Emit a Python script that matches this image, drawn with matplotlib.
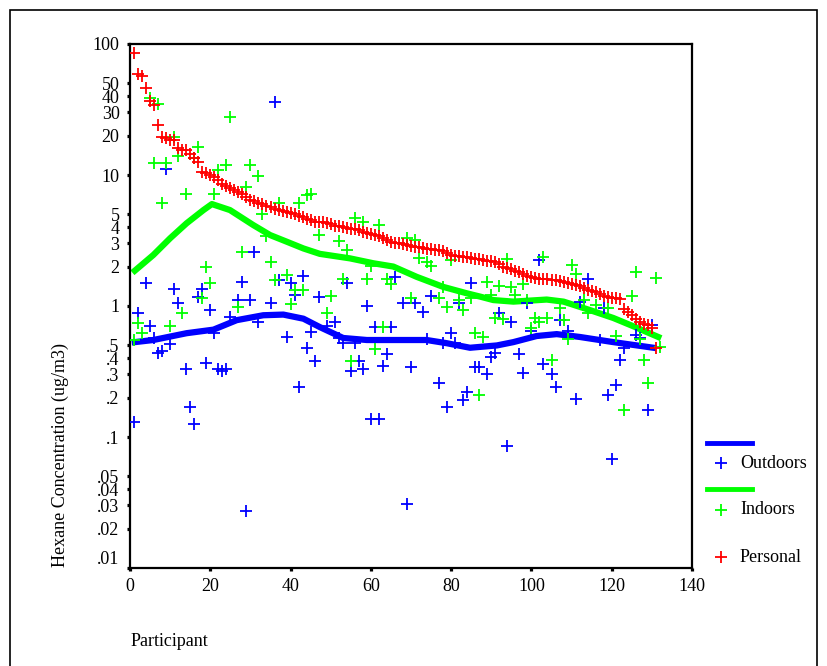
"""
Hexane concentration per participant: outdoors, indoors and personal
samples on a log scale, with smoothed outdoor/indoor trends.
"""
import numpy as np
from matplotlib import pyplot as plt
from matplotlib.lines import Line2D
from matplotlib.patches import Rectangle
from matplotlib.transforms import ScaledTranslation

plt.rcParams['font.family'] = ['Liberation Serif', 'DejaVu Serif']

# Personal samples (sorted, one per participant)
personal = [86, 59, 57, 46, 37, 34, 24, 19.5, 19, 18.5,
            18.5, 16, 15.5, 15.5, 14.5, 13.5, 12.5, 10.5, 10.3, 10,
            9.7, 9.2, 8.5, 8.2, 8.0, 7.7, 7.4, 7.1, 6.8, 6.5,
            6.3, 6.1, 6.0, 5.8, 5.7, 5.5, 5.4, 5.3, 5.2, 5.1,
            5.0, 4.9, 4.8, 4.6, 4.5, 4.4, 4.4, 4.35, 4.3, 4.2,
            4.1, 4.05, 4.0, 3.95, 3.9, 3.85, 3.8, 3.7, 3.6, 3.55,
            3.5, 3.4, 3.3, 3.2, 3.1, 3.05, 3.0, 2.95, 2.9, 2.87,
            2.83, 2.8, 2.77, 2.73, 2.7, 2.68, 2.66, 2.63, 2.55, 2.45,
            2.42, 2.4, 2.38, 2.36, 2.33, 2.3, 2.28, 2.25, 2.22, 2.2,
            2.17, 2.08, 2.0, 1.95, 1.9, 1.85, 1.82, 1.76, 1.7, 1.67,
            1.64, 1.62, 1.61, 1.6, 1.59, 1.58, 1.55, 1.52, 1.5, 1.47,
            1.45, 1.42, 1.38, 1.33, 1.3, 1.27, 1.24, 1.2, 1.17, 1.16,
            1.15, 1.13, 0.95, 0.9, 0.85, 0.8, 0.76, 0.73, 0.71, 0.68,
            0.48]
personal_x = np.arange(1, len(personal) + 1)

# Indoor samples
indoor_x = [1, 2, 3, 5, 6, 7, 8, 9, 10, 11, 12, 13, 14, 16, 17, 18, 19, 20, 21, 22,
            24, 25, 27, 28, 29, 30, 32, 33, 34, 35, 36, 37, 39, 40, 41, 42, 43, 44, 45, 47,
            49, 50, 52, 53, 54, 55, 56, 58, 59, 60, 61, 62, 63, 64, 65, 69, 70, 71, 72, 74,
            75, 77, 78, 79, 80, 82, 83, 85, 86, 87, 88, 89, 90, 91, 92, 93, 94, 95, 96, 98,
            99, 100, 101, 102, 103, 104, 105, 107, 108, 109, 110, 111, 113, 114, 116, 119,
            121, 123, 125, 126, 127, 128, 129, 131, 132]
indoor = [0.55, 0.74, 0.62, 39, 12.4, 35, 6.1, 12.3, 0.70, 19.6,
          14, 0.88, 7.1, 13.4, 16.4, 1.15, 2.0, 1.49, 7.2, 10.9,
          11.9, 27.6, 0.99, 2.6, 8.1, 12.0, 9.9, 5.0, 3.4, 2.18,
          1.58, 6.15, 1.73, 1.03, 1.32, 6.15, 1.32, 7.0, 7.2, 3.5,
          0.89, 1.2, 3.13, 1.62, 2.67, 0.38, 4.67, 4.4, 1.62, 2.02,
          0.47, 4.15, 0.69, 1.62, 1.46, 3.29, 1.15, 3.19, 2.34, 2.18,
          2.02, 1.15, 1.40, 0.99, 2.24, 1.11, 0.93, 1.15, 0.62, 0.21,
          0.58, 1.53, 1.21, 0.81, 1.42, 0.79, 2.29, 1.39, 1.21, 1.46,
          1.11, 0.68, 0.81, 0.76, 2.38, 0.81, 0.39, 0.97, 0.78, 0.56,
          2.06, 1.77, 1.11, 0.88, 1.02, 0.96, 0.59, 0.16, 1.19, 1.83,
          0.56, 0.39, 0.26, 1.64, 0.49]

# Outdoor samples
outdoor_x = [1, 2, 4, 5, 6, 7, 8, 9, 10, 11, 12, 14, 15, 16, 17, 18, 19, 20, 21, 22,
             23, 24, 25, 27, 28, 29, 30, 31, 32, 35, 36, 37, 39, 40, 41, 42, 43, 44, 45, 46,
             47, 49, 51, 52, 53, 54, 55, 56, 57, 58, 59, 60, 61, 62, 63, 64, 65, 66, 68, 69,
             70, 71, 73, 74, 75, 77, 78, 79, 80, 81, 82, 83, 84, 85, 86, 87, 89, 90, 91, 92,
             94, 95, 97, 98, 99, 100, 102, 103, 105, 106, 107, 109, 111, 112, 114, 117, 118,
             119, 120, 121, 122, 123, 126, 127, 129, 130]
outdoor = [0.13, 0.88, 1.51, 0.70, 0.57, 0.44, 0.45, 11.1, 0.51, 1.34,
           1.06, 0.33, 0.17, 0.125, 1.18, 1.36, 0.37, 0.94, 0.62, 0.33,
           0.32, 0.33, 0.82, 1.12, 1.53, 0.027, 1.12, 2.6, 0.75, 1.05,
           35.9, 1.58, 0.58, 1.49, 1.21, 0.24, 1.69, 0.48, 0.63, 0.38,
           1.18, 0.70, 0.76, 0.57, 0.52, 1.51, 0.32, 0.52, 0.38, 0.33,
           1.0, 0.137, 0.69, 0.137, 0.35, 0.43, 0.69, 1.67, 1.06, 0.031,
           0.34, 1.05, 0.90, 0.56, 1.2, 0.26, 0.52, 0.17, 0.62, 0.52,
           1.06, 0.19, 0.22, 1.49, 0.34, 0.34, 0.30, 0.41, 0.44, 0.88,
           0.085, 0.76, 0.43, 0.31, 1.05, 0.64, 2.24, 0.36, 0.30, 0.24,
           0.78, 0.64, 0.195, 1.08, 1.62, 0.55, 0.96, 0.21, 0.068, 0.25,
           0.39, 0.48, 0.60, 0.57, 0.16, 0.71]

# Smoothed trends
indoor_smooth_x = [1.2, 5.8, 10, 14.1, 18.3, 20.4, 24.9, 30.7, 34.9, 39, 43.2, 47.3, 54.8,
                   60.6, 65.6, 71.4, 78, 83.9, 87.2, 90.5, 95.5, 103.8, 108, 114.6, 120.4,
                   125.4, 131.6]
indoor_smooth = [1.86, 2.45, 3.29, 4.28, 5.4, 6.0, 5.4, 4.15, 3.48, 3.1, 2.75, 2.5, 2.31,
                 2.12, 2.0, 1.67, 1.40, 1.25, 1.18, 1.11, 1.08, 1.12, 1.08, 0.93, 0.81,
                 0.70, 0.58]
outdoor_smooth_x = [1.2, 5.8, 14.1, 20.8, 26.6, 33.2, 38.2, 43.2, 47.3, 53.1, 59, 67.3,
                    73.9, 78.9, 84.7, 91.4, 95.5, 101.3, 106.3, 112.1, 120.4, 130.4]
outdoor_smooth = [0.53, 0.55, 0.62, 0.66, 0.78, 0.85, 0.86, 0.80, 0.69, 0.57, 0.55, 0.55,
                  0.55, 0.52, 0.48, 0.50, 0.53, 0.59, 0.61, 0.58, 0.53, 0.48]

yticks = [100, 50, 40, 30, 20, 10, 5, 4, 3, 2, 1, 0.5, 0.4, 0.3, 0.2, 0.1,
          0.05, 0.04, 0.03, 0.02, 0.01]
ytick_labels = ["100", "50", "40", "30", "20", "10", "5", "4", "3", "2", "1",
                ".5", ".4", ".3", ".2", ".1", ".05", ".04", ".03", ".02", ".01"]

BLUE = "#0000ff"
GREEN = "#00ff00"
RED = "#ff0000"
FS = 13

fig = plt.figure(figsize=(8.27, 6.66), dpi=100)
W, H = 827, 666
ax = fig.add_axes([130 / W, 1 - 568 / H, (692 - 130) / W, (568 - 44) / H])

ax.plot(outdoor_smooth_x, outdoor_smooth, color=BLUE, lw=4.5, zorder=2)
ax.plot(indoor_smooth_x, indoor_smooth, color=GREEN, lw=4.5, zorder=2)
mk = dict(ls="none", marker="+", ms=8.5, mew=1.3)
ax.plot(outdoor_x, outdoor, color=BLUE, zorder=3, **mk)
ax.plot(indoor_x, indoor, color=GREEN, zorder=3, **mk)
ax.plot(personal_x, personal, color=RED, zorder=4, **mk)

ax.set_yscale("log")
ax.set_ylim(0.01, 100)
ax.set_xlim(0, 140)
ax.set_xticks(range(0, 141, 20))
ax.set_yticks(yticks)
ax.set_yticklabels(ytick_labels)
ax.minorticks_off()
ax.tick_params(direction="out", length=2.5, width=2.3, labelsize=FS, pad=5)
for s in ax.spines.values():
    s.set_linewidth(1.6)

# the .01 label sits a little above its tick
for lab in ax.get_yticklabels():
    if lab.get_text() == ".01":
        lab.set_transform(lab.get_transform()
                          + ScaledTranslation(0, 0.1, fig.dpi_scale_trans))

fig.text(60 / W, 1 - 455 / H, "Hexane Concentration (ug/m3)", rotation=90,
         ha="center", va="center", fontsize=FS)
fig.text(131 / W, 1 - 641 / H, "Participant", ha="left", va="center", fontsize=FS)

# legend, drawn by hand to keep the original arrangement
def fx(px):
    return px / W


def fy(py):
    return 1 - py / H


fig.add_artist(Line2D([fx(707), fx(752)], [fy(443), fy(443)], color=BLUE, lw=3.5))
fig.add_artist(Line2D([fx(721)], [fy(463)], color=BLUE, **mk))
fig.text(fx(740), fy(463), "Outdoors", va="center", fontsize=FS)
fig.add_artist(Line2D([fx(707), fx(752)], [fy(489), fy(489)], color=GREEN, lw=3.5))
fig.add_artist(Line2D([fx(721)], [fy(510)], color=GREEN, **mk))
fig.text(fx(740), fy(510), "Indoors", va="center", fontsize=FS)
fig.add_artist(Line2D([fx(721)], [fy(557)], color=RED, **mk))
fig.text(fx(740), fy(557), "Personal", va="center", fontsize=FS)

# outer frame (open at the bottom)
fig.add_artist(Rectangle((fx(10), -0.1), fx(817) - fx(10), fy(10) + 0.1,
                         fill=False, lw=1.2, ec="black"))

fig.savefig("out.png", dpi=100)
